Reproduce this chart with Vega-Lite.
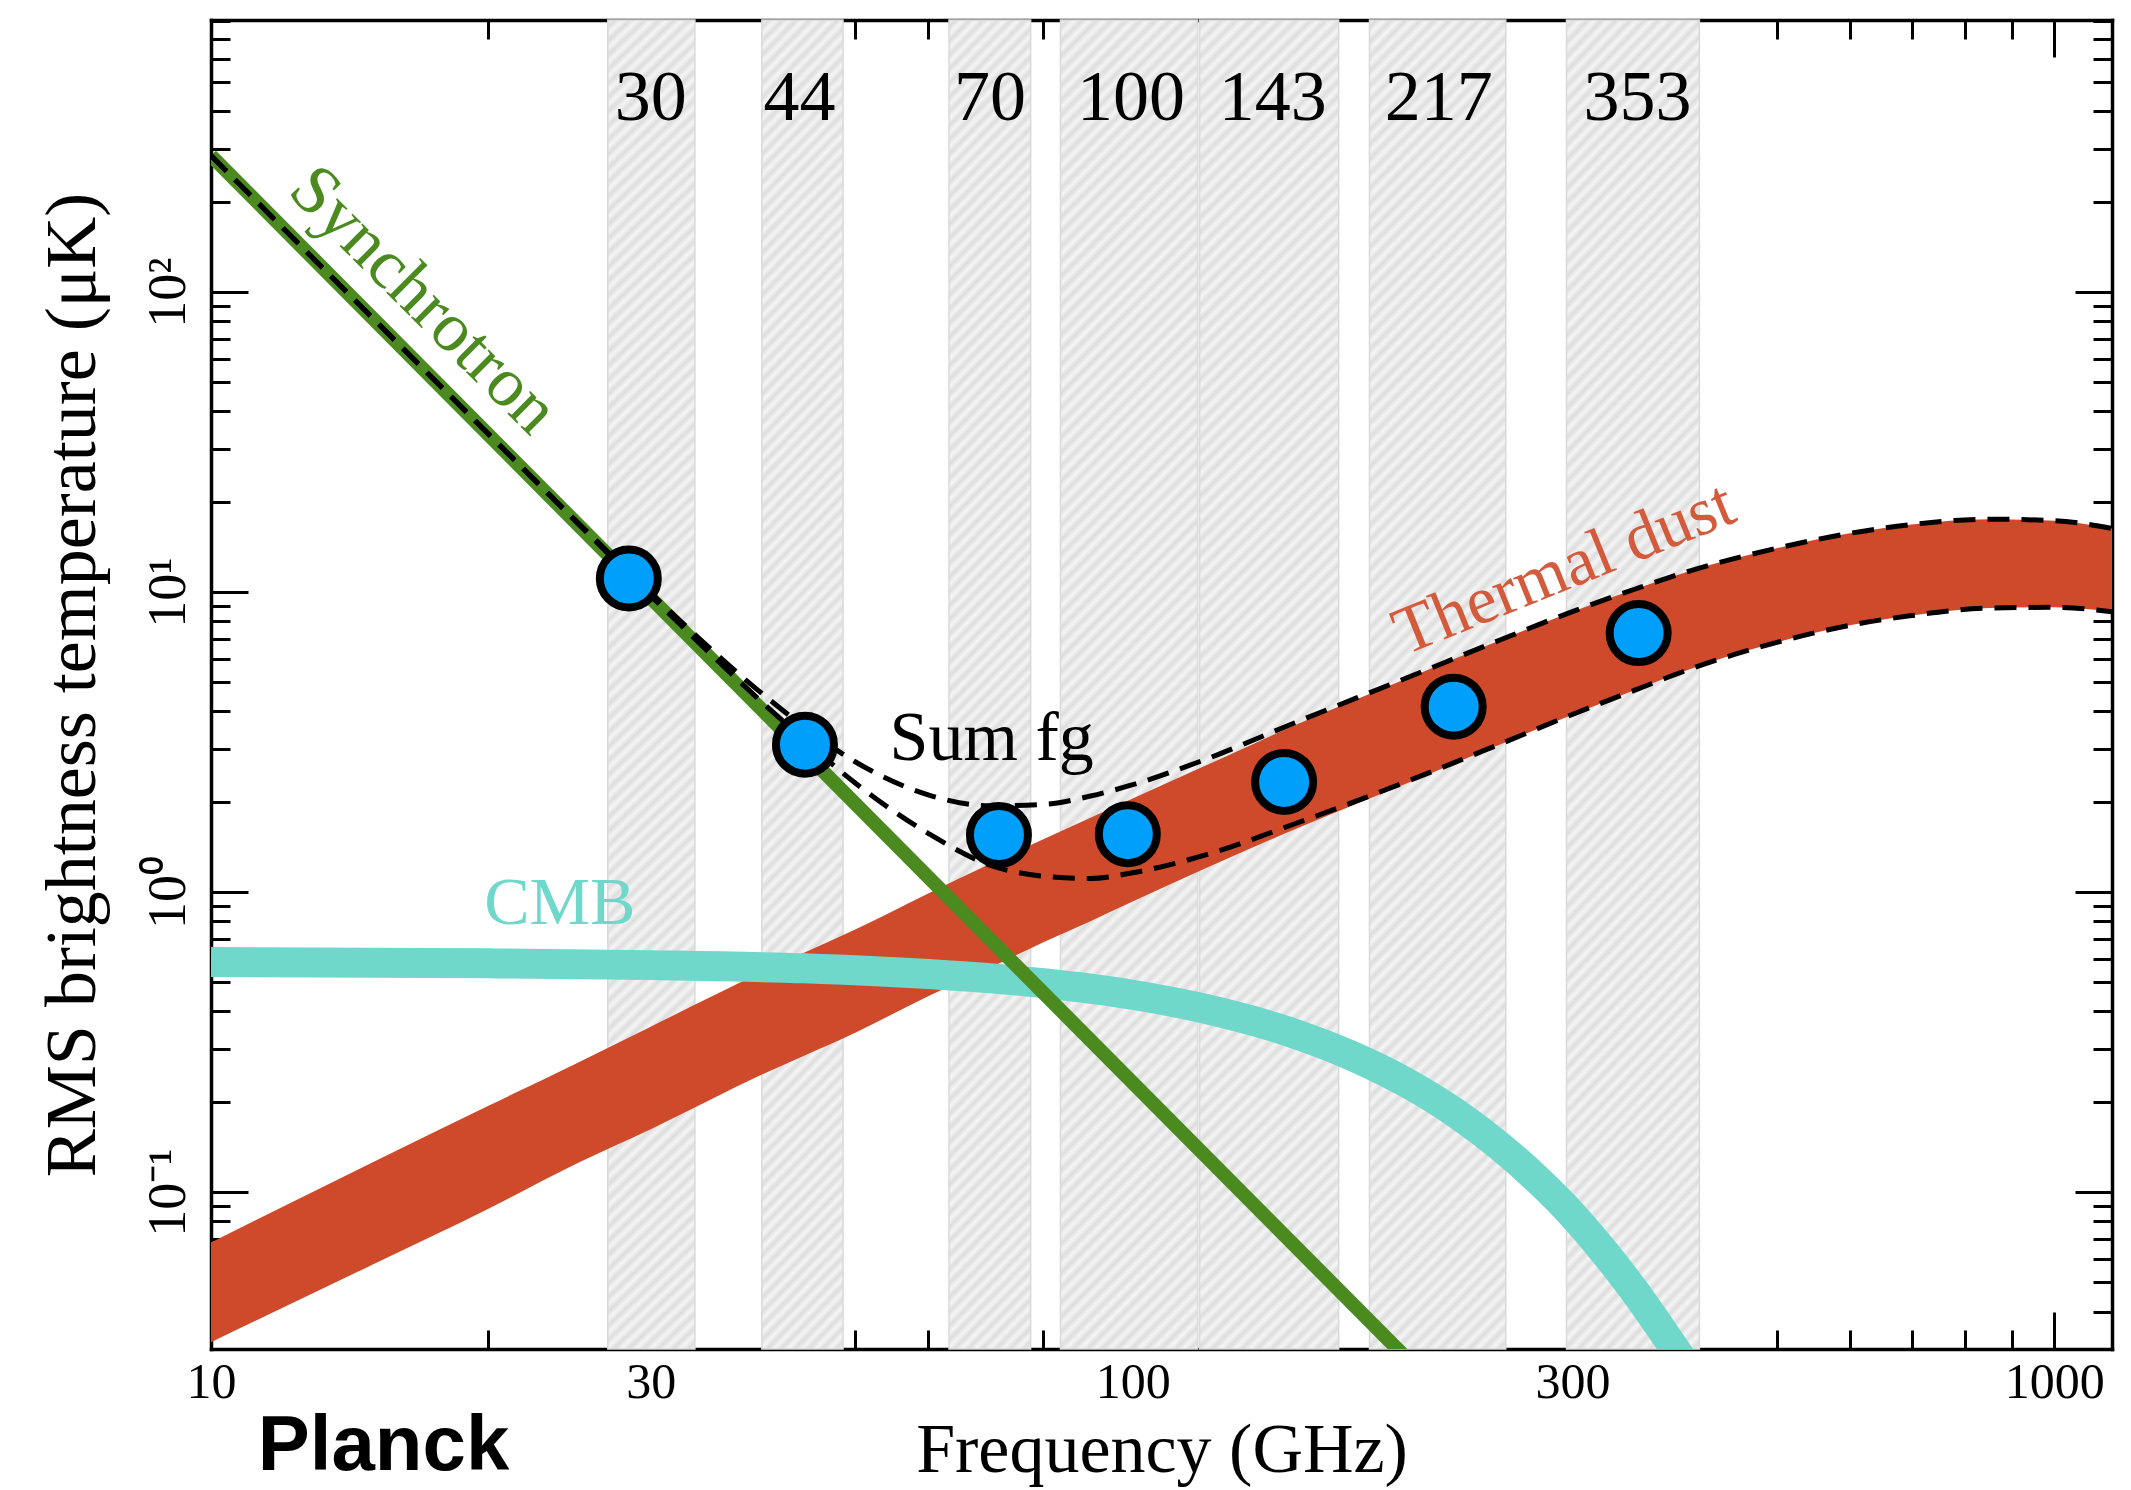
{
  "$schema": "https://vega.github.io/schema/vega-lite/v6.json",
  "width": 1901,
  "height": 1329,
  "autosize": {"type": "none"},
  "padding": {"left": 211, "top": 20, "right": 19, "bottom": 141},
  "background": "white",
  "config": {
    "view": {"stroke": null},
    "font": "Liberation Serif",
    "axis": {
      "grid": false,
      "zindex": 1,
      "labelColor": "black",
      "tickColor": "black",
      "domainColor": "black",
      "titleColor": "black",
      "labelFont": "Liberation Serif",
      "titleFont": "Liberation Serif",
      "titleFontWeight": "normal",
      "tickWidth": 3,
      "domainWidth": 3.5,
      "domainCap": "square",
      "labelOverlap": false,
      "labelFlush": false
    }
  },
  "datasets": {
    "bands": [
      {"band": "30", "group": "narrow", "lo": 26.95, "hi": 33.5, "center": 30.0},
      {"band": "44", "group": "narrow", "lo": 39.6, "hi": 48.5, "center": 43.5},
      {"band": "70", "group": "narrow", "lo": 63.2, "hi": 77.5, "center": 70.0},
      {"band": "100", "group": "wide", "lo": 83.5, "hi": 117.6, "center": 99.6},
      {"band": "143", "group": "wide", "lo": 118.2, "hi": 167.3, "center": 141.9},
      {"band": "217", "group": "wide", "lo": 180.7, "hi": 254, "center": 214.8},
      {"band": "353", "group": "wide", "lo": 295.6, "hi": 412, "center": 353}
    ],
    "fg": [
      {"freq": 10, "dust_lo": 0.0316, "dust_hi": 0.068, "sum_lo": 285.03, "sum_hi": 285.1},
      {"freq": 15, "dust_lo": 0.0575, "dust_hi": 0.126, "sum_lo": 81.46, "sum_hi": 81.5},
      {"freq": 20, "dust_lo": 0.088, "dust_hi": 0.194, "sum_lo": 33.59, "sum_hi": 33.7},
      {"freq": 25, "dust_lo": 0.125, "dust_hi": 0.27, "sum_lo": 16.93, "sum_hi": 17.07},
      {"freq": 30, "dust_lo": 0.162, "dust_hi": 0.356, "sum_lo": 9.72, "sum_hi": 9.92},
      {"freq": 40, "dust_lo": 0.25, "dust_hi": 0.55, "sum_lo": 4.18, "sum_hi": 4.48},
      {"freq": 44, "dust_lo": 0.285, "dust_hi": 0.628, "sum_lo": 3.22, "sum_hi": 3.56},
      {"freq": 50, "dust_lo": 0.34, "dust_hi": 0.75, "sum_lo": 2.31, "sum_hi": 2.72},
      {"freq": 60, "dust_lo": 0.45, "dust_hi": 0.99, "sum_lo": 1.57, "sum_hi": 2.11},
      {"freq": 70, "dust_lo": 0.56, "dust_hi": 1.24, "sum_lo": 1.23, "sum_hi": 1.94},
      {"freq": 80, "dust_lo": 0.68, "dust_hi": 1.5, "sum_lo": 1.13, "sum_hi": 1.96},
      {"freq": 90, "dust_lo": 0.8, "dust_hi": 1.77, "sum_lo": 1.11, "sum_hi": 2.09},
      {"freq": 100, "dust_lo": 0.93, "dust_hi": 2.05, "sum_lo": 1.16, "sum_hi": 2.28},
      {"freq": 120, "dust_lo": 1.2, "dust_hi": 2.64, "sum_lo": 1.33, "sum_hi": 2.77},
      {"freq": 150, "dust_lo": 1.62, "dust_hi": 3.6, "sum_lo": 1.69, "sum_hi": 3.67},
      {"freq": 200, "dust_lo": 2.33, "dust_hi": 5.2, "sum_lo": 2.36, "sum_hi": 5.23},
      {"freq": 250, "dust_lo": 3.1, "dust_hi": 6.9, "sum_lo": 3.11, "sum_hi": 6.91},
      {"freq": 300, "dust_lo": 3.9, "dust_hi": 8.6, "sum_lo": 3.91, "sum_hi": 8.61},
      {"freq": 353, "dust_lo": 4.75, "dust_hi": 10.3, "sum_lo": 4.75, "sum_hi": 10.3},
      {"freq": 400, "dust_lo": 5.5, "dust_hi": 11.7, "sum_lo": 5.5, "sum_hi": 11.7},
      {"freq": 500, "dust_lo": 6.8, "dust_hi": 14.0, "sum_lo": 6.8, "sum_hi": 14.0},
      {"freq": 600, "dust_lo": 7.75, "dust_hi": 15.7, "sum_lo": 7.75, "sum_hi": 15.7},
      {"freq": 700, "dust_lo": 8.35, "dust_hi": 16.8, "sum_lo": 8.35, "sum_hi": 16.8},
      {"freq": 850, "dust_lo": 8.85, "dust_hi": 17.5, "sum_lo": 8.85, "sum_hi": 17.5},
      {"freq": 1000, "dust_lo": 8.9, "dust_hi": 17.3, "sum_lo": 8.9, "sum_hi": 17.3},
      {"freq": 1155, "dust_lo": 8.6, "dust_hi": 16.3, "sum_lo": 8.6, "sum_hi": 16.3}
    ],
    "synch": [
      {"freq": 10, "temp": 285},
      {"freq": 200, "temp": 0.0272}
    ],
    "cmb": [
      {"freq": 10, "temp": 0.585},
      {"freq": 20, "temp": 0.579},
      {"freq": 30, "temp": 0.571},
      {"freq": 44, "temp": 0.557},
      {"freq": 60, "temp": 0.533},
      {"freq": 70, "temp": 0.516},
      {"freq": 80, "temp": 0.497},
      {"freq": 100, "temp": 0.455},
      {"freq": 120, "temp": 0.408},
      {"freq": 150, "temp": 0.337},
      {"freq": 175, "temp": 0.28},
      {"freq": 200, "temp": 0.228},
      {"freq": 225, "temp": 0.182},
      {"freq": 250, "temp": 0.1425},
      {"freq": 275, "temp": 0.11},
      {"freq": 300, "temp": 0.084},
      {"freq": 325, "temp": 0.063},
      {"freq": 350, "temp": 0.047},
      {"freq": 375, "temp": 0.0348},
      {"freq": 400, "temp": 0.026}
    ],
    "points": [
      {"freq": 28.4, "temp": 11.1},
      {"freq": 44.1, "temp": 3.1},
      {"freq": 71.6, "temp": 1.55},
      {"freq": 98.8, "temp": 1.56},
      {"freq": 146, "temp": 2.33},
      {"freq": 223, "temp": 4.15},
      {"freq": 354, "temp": 7.3}
    ],
    "labels": [
      {"label": "Synchrotron", "freq": 17.0, "temp": 94},
      {"label": "Thermal dust", "freq": 294, "temp": 11.9},
      {"label": "CMB", "freq": 23.9, "temp": 0.78},
      {"label": "Sum fg", "freq": 70.3, "temp": 2.75},
      {"label": "Planck", "freq": 11.24, "temp": 0.01184}
    ]
  },
  "resolve": {
    "scale": {"x": "shared", "y": "shared"},
    "axis": {"x": "independent", "y": "independent"}
  },
  "layer": [
    {
      "data": {"name": "bands"},
      "transform": [{"filter": "datum.group == 'narrow'"}],
      "mark": {"type": "rect", "stroke": "#d9d9d9", "strokeWidth": 1.5,
        "fill": {"gradient": "linear", "x1": 0, "y1": 0, "x2": 0.0661, "y2": 1.0583, "stops": [
          {"offset":0,"color":"#f5f5f5"},{"offset":0.005,"color":"#dddddd"},{"offset":0.01,"color":"#f5f5f5"},{"offset":0.015,"color":"#dddddd"},{"offset":0.02,"color":"#f5f5f5"},{"offset":0.025,"color":"#dddddd"},{"offset":0.03,"color":"#f5f5f5"},{"offset":0.035,"color":"#dddddd"},{"offset":0.04,"color":"#f5f5f5"},{"offset":0.045,"color":"#dddddd"},{"offset":0.05,"color":"#f5f5f5"},{"offset":0.055,"color":"#dddddd"},{"offset":0.06,"color":"#f5f5f5"},{"offset":0.065,"color":"#dddddd"},{"offset":0.07,"color":"#f5f5f5"},{"offset":0.075,"color":"#dddddd"},{"offset":0.08,"color":"#f5f5f5"},{"offset":0.085,"color":"#dddddd"},{"offset":0.09,"color":"#f5f5f5"},{"offset":0.095,"color":"#dddddd"},
          {"offset":0.1,"color":"#f5f5f5"},{"offset":0.105,"color":"#dddddd"},{"offset":0.11,"color":"#f5f5f5"},{"offset":0.115,"color":"#dddddd"},{"offset":0.12,"color":"#f5f5f5"},{"offset":0.125,"color":"#dddddd"},{"offset":0.13,"color":"#f5f5f5"},{"offset":0.135,"color":"#dddddd"},{"offset":0.14,"color":"#f5f5f5"},{"offset":0.145,"color":"#dddddd"},{"offset":0.15,"color":"#f5f5f5"},{"offset":0.155,"color":"#dddddd"},{"offset":0.16,"color":"#f5f5f5"},{"offset":0.165,"color":"#dddddd"},{"offset":0.17,"color":"#f5f5f5"},{"offset":0.175,"color":"#dddddd"},{"offset":0.18,"color":"#f5f5f5"},{"offset":0.185,"color":"#dddddd"},{"offset":0.19,"color":"#f5f5f5"},{"offset":0.195,"color":"#dddddd"},
          {"offset":0.2,"color":"#f5f5f5"},{"offset":0.205,"color":"#dddddd"},{"offset":0.21,"color":"#f5f5f5"},{"offset":0.215,"color":"#dddddd"},{"offset":0.22,"color":"#f5f5f5"},{"offset":0.225,"color":"#dddddd"},{"offset":0.23,"color":"#f5f5f5"},{"offset":0.235,"color":"#dddddd"},{"offset":0.24,"color":"#f5f5f5"},{"offset":0.245,"color":"#dddddd"},{"offset":0.25,"color":"#f5f5f5"},{"offset":0.255,"color":"#dddddd"},{"offset":0.26,"color":"#f5f5f5"},{"offset":0.265,"color":"#dddddd"},{"offset":0.27,"color":"#f5f5f5"},{"offset":0.275,"color":"#dddddd"},{"offset":0.28,"color":"#f5f5f5"},{"offset":0.285,"color":"#dddddd"},{"offset":0.29,"color":"#f5f5f5"},{"offset":0.295,"color":"#dddddd"},
          {"offset":0.3,"color":"#f5f5f5"},{"offset":0.305,"color":"#dddddd"},{"offset":0.31,"color":"#f5f5f5"},{"offset":0.315,"color":"#dddddd"},{"offset":0.32,"color":"#f5f5f5"},{"offset":0.325,"color":"#dddddd"},{"offset":0.33,"color":"#f5f5f5"},{"offset":0.335,"color":"#dddddd"},{"offset":0.34,"color":"#f5f5f5"},{"offset":0.345,"color":"#dddddd"},{"offset":0.35,"color":"#f5f5f5"},{"offset":0.355,"color":"#dddddd"},{"offset":0.36,"color":"#f5f5f5"},{"offset":0.365,"color":"#dddddd"},{"offset":0.37,"color":"#f5f5f5"},{"offset":0.375,"color":"#dddddd"},{"offset":0.38,"color":"#f5f5f5"},{"offset":0.385,"color":"#dddddd"},{"offset":0.39,"color":"#f5f5f5"},{"offset":0.395,"color":"#dddddd"},
          {"offset":0.4,"color":"#f5f5f5"},{"offset":0.405,"color":"#dddddd"},{"offset":0.41,"color":"#f5f5f5"},{"offset":0.415,"color":"#dddddd"},{"offset":0.42,"color":"#f5f5f5"},{"offset":0.425,"color":"#dddddd"},{"offset":0.43,"color":"#f5f5f5"},{"offset":0.435,"color":"#dddddd"},{"offset":0.44,"color":"#f5f5f5"},{"offset":0.445,"color":"#dddddd"},{"offset":0.45,"color":"#f5f5f5"},{"offset":0.455,"color":"#dddddd"},{"offset":0.46,"color":"#f5f5f5"},{"offset":0.465,"color":"#dddddd"},{"offset":0.47,"color":"#f5f5f5"},{"offset":0.475,"color":"#dddddd"},{"offset":0.48,"color":"#f5f5f5"},{"offset":0.485,"color":"#dddddd"},{"offset":0.49,"color":"#f5f5f5"},{"offset":0.495,"color":"#dddddd"},
          {"offset":0.5,"color":"#f5f5f5"},{"offset":0.505,"color":"#dddddd"},{"offset":0.51,"color":"#f5f5f5"},{"offset":0.515,"color":"#dddddd"},{"offset":0.52,"color":"#f5f5f5"},{"offset":0.525,"color":"#dddddd"},{"offset":0.53,"color":"#f5f5f5"},{"offset":0.535,"color":"#dddddd"},{"offset":0.54,"color":"#f5f5f5"},{"offset":0.545,"color":"#dddddd"},{"offset":0.55,"color":"#f5f5f5"},{"offset":0.555,"color":"#dddddd"},{"offset":0.56,"color":"#f5f5f5"},{"offset":0.565,"color":"#dddddd"},{"offset":0.57,"color":"#f5f5f5"},{"offset":0.575,"color":"#dddddd"},{"offset":0.58,"color":"#f5f5f5"},{"offset":0.585,"color":"#dddddd"},{"offset":0.59,"color":"#f5f5f5"},{"offset":0.595,"color":"#dddddd"},
          {"offset":0.6,"color":"#f5f5f5"},{"offset":0.605,"color":"#dddddd"},{"offset":0.61,"color":"#f5f5f5"},{"offset":0.615,"color":"#dddddd"},{"offset":0.62,"color":"#f5f5f5"},{"offset":0.625,"color":"#dddddd"},{"offset":0.63,"color":"#f5f5f5"},{"offset":0.635,"color":"#dddddd"},{"offset":0.64,"color":"#f5f5f5"},{"offset":0.645,"color":"#dddddd"},{"offset":0.65,"color":"#f5f5f5"},{"offset":0.655,"color":"#dddddd"},{"offset":0.66,"color":"#f5f5f5"},{"offset":0.665,"color":"#dddddd"},{"offset":0.67,"color":"#f5f5f5"},{"offset":0.675,"color":"#dddddd"},{"offset":0.68,"color":"#f5f5f5"},{"offset":0.685,"color":"#dddddd"},{"offset":0.69,"color":"#f5f5f5"},{"offset":0.695,"color":"#dddddd"},
          {"offset":0.7,"color":"#f5f5f5"},{"offset":0.705,"color":"#dddddd"},{"offset":0.71,"color":"#f5f5f5"},{"offset":0.715,"color":"#dddddd"},{"offset":0.72,"color":"#f5f5f5"},{"offset":0.725,"color":"#dddddd"},{"offset":0.73,"color":"#f5f5f5"},{"offset":0.735,"color":"#dddddd"},{"offset":0.74,"color":"#f5f5f5"},{"offset":0.745,"color":"#dddddd"},{"offset":0.75,"color":"#f5f5f5"},{"offset":0.755,"color":"#dddddd"},{"offset":0.76,"color":"#f5f5f5"},{"offset":0.765,"color":"#dddddd"},{"offset":0.77,"color":"#f5f5f5"},{"offset":0.775,"color":"#dddddd"},{"offset":0.78,"color":"#f5f5f5"},{"offset":0.785,"color":"#dddddd"},{"offset":0.79,"color":"#f5f5f5"},{"offset":0.795,"color":"#dddddd"},
          {"offset":0.8,"color":"#f5f5f5"},{"offset":0.805,"color":"#dddddd"},{"offset":0.81,"color":"#f5f5f5"},{"offset":0.815,"color":"#dddddd"},{"offset":0.82,"color":"#f5f5f5"},{"offset":0.825,"color":"#dddddd"},{"offset":0.83,"color":"#f5f5f5"},{"offset":0.835,"color":"#dddddd"},{"offset":0.84,"color":"#f5f5f5"},{"offset":0.845,"color":"#dddddd"},{"offset":0.85,"color":"#f5f5f5"},{"offset":0.855,"color":"#dddddd"},{"offset":0.86,"color":"#f5f5f5"},{"offset":0.865,"color":"#dddddd"},{"offset":0.87,"color":"#f5f5f5"},{"offset":0.875,"color":"#dddddd"},{"offset":0.88,"color":"#f5f5f5"},{"offset":0.885,"color":"#dddddd"},{"offset":0.89,"color":"#f5f5f5"},{"offset":0.895,"color":"#dddddd"},
          {"offset":0.9,"color":"#f5f5f5"},{"offset":0.905,"color":"#dddddd"},{"offset":0.91,"color":"#f5f5f5"},{"offset":0.915,"color":"#dddddd"},{"offset":0.92,"color":"#f5f5f5"},{"offset":0.925,"color":"#dddddd"},{"offset":0.93,"color":"#f5f5f5"},{"offset":0.935,"color":"#dddddd"},{"offset":0.94,"color":"#f5f5f5"},{"offset":0.945,"color":"#dddddd"},{"offset":0.95,"color":"#f5f5f5"},{"offset":0.955,"color":"#dddddd"},{"offset":0.96,"color":"#f5f5f5"},{"offset":0.965,"color":"#dddddd"},{"offset":0.97,"color":"#f5f5f5"},{"offset":0.975,"color":"#dddddd"},{"offset":0.98,"color":"#f5f5f5"},{"offset":0.985,"color":"#dddddd"},{"offset":0.99,"color":"#f5f5f5"},{"offset":0.995,"color":"#dddddd"},
          {"offset":1,"color":"#f5f5f5"}
        ]}
      },
      "encoding": {
        "x": {
          "field": "lo", "type": "quantitative",
          "scale": {"type": "log", "domain": [10, 1155], "nice": false},
          "axis": {
            "orient": "bottom", "values": [10, 30, 100, 300, 1000],
            "tickSize": -37, "labelPadding": 45, "labelFontSize": 50,
            "labelExpr": "format(datum.value, 'd')",
            "title": "Frequency (GHz)", "titleFontSize": 70, "titlePadding": 9
          }
        },
        "x2": {"field": "hi"}
      }
    },
    {
      "data": {"name": "bands"},
      "transform": [{"filter": "datum.group == 'wide'"}],
      "mark": {"type": "rect", "stroke": "#d9d9d9", "strokeWidth": 1.5,
        "fill": {"gradient": "linear", "x1": 0, "y1": 0, "x2": 0.1125, "y2": 1.0915, "stops": [
          {"offset":0,"color":"#f5f5f5"},{"offset":0.005,"color":"#dddddd"},{"offset":0.01,"color":"#f5f5f5"},{"offset":0.015,"color":"#dddddd"},{"offset":0.02,"color":"#f5f5f5"},{"offset":0.025,"color":"#dddddd"},{"offset":0.03,"color":"#f5f5f5"},{"offset":0.035,"color":"#dddddd"},{"offset":0.04,"color":"#f5f5f5"},{"offset":0.045,"color":"#dddddd"},{"offset":0.05,"color":"#f5f5f5"},{"offset":0.055,"color":"#dddddd"},{"offset":0.06,"color":"#f5f5f5"},{"offset":0.065,"color":"#dddddd"},{"offset":0.07,"color":"#f5f5f5"},{"offset":0.075,"color":"#dddddd"},{"offset":0.08,"color":"#f5f5f5"},{"offset":0.085,"color":"#dddddd"},{"offset":0.09,"color":"#f5f5f5"},{"offset":0.095,"color":"#dddddd"},
          {"offset":0.1,"color":"#f5f5f5"},{"offset":0.105,"color":"#dddddd"},{"offset":0.11,"color":"#f5f5f5"},{"offset":0.115,"color":"#dddddd"},{"offset":0.12,"color":"#f5f5f5"},{"offset":0.125,"color":"#dddddd"},{"offset":0.13,"color":"#f5f5f5"},{"offset":0.135,"color":"#dddddd"},{"offset":0.14,"color":"#f5f5f5"},{"offset":0.145,"color":"#dddddd"},{"offset":0.15,"color":"#f5f5f5"},{"offset":0.155,"color":"#dddddd"},{"offset":0.16,"color":"#f5f5f5"},{"offset":0.165,"color":"#dddddd"},{"offset":0.17,"color":"#f5f5f5"},{"offset":0.175,"color":"#dddddd"},{"offset":0.18,"color":"#f5f5f5"},{"offset":0.185,"color":"#dddddd"},{"offset":0.19,"color":"#f5f5f5"},{"offset":0.195,"color":"#dddddd"},
          {"offset":0.2,"color":"#f5f5f5"},{"offset":0.205,"color":"#dddddd"},{"offset":0.21,"color":"#f5f5f5"},{"offset":0.215,"color":"#dddddd"},{"offset":0.22,"color":"#f5f5f5"},{"offset":0.225,"color":"#dddddd"},{"offset":0.23,"color":"#f5f5f5"},{"offset":0.235,"color":"#dddddd"},{"offset":0.24,"color":"#f5f5f5"},{"offset":0.245,"color":"#dddddd"},{"offset":0.25,"color":"#f5f5f5"},{"offset":0.255,"color":"#dddddd"},{"offset":0.26,"color":"#f5f5f5"},{"offset":0.265,"color":"#dddddd"},{"offset":0.27,"color":"#f5f5f5"},{"offset":0.275,"color":"#dddddd"},{"offset":0.28,"color":"#f5f5f5"},{"offset":0.285,"color":"#dddddd"},{"offset":0.29,"color":"#f5f5f5"},{"offset":0.295,"color":"#dddddd"},
          {"offset":0.3,"color":"#f5f5f5"},{"offset":0.305,"color":"#dddddd"},{"offset":0.31,"color":"#f5f5f5"},{"offset":0.315,"color":"#dddddd"},{"offset":0.32,"color":"#f5f5f5"},{"offset":0.325,"color":"#dddddd"},{"offset":0.33,"color":"#f5f5f5"},{"offset":0.335,"color":"#dddddd"},{"offset":0.34,"color":"#f5f5f5"},{"offset":0.345,"color":"#dddddd"},{"offset":0.35,"color":"#f5f5f5"},{"offset":0.355,"color":"#dddddd"},{"offset":0.36,"color":"#f5f5f5"},{"offset":0.365,"color":"#dddddd"},{"offset":0.37,"color":"#f5f5f5"},{"offset":0.375,"color":"#dddddd"},{"offset":0.38,"color":"#f5f5f5"},{"offset":0.385,"color":"#dddddd"},{"offset":0.39,"color":"#f5f5f5"},{"offset":0.395,"color":"#dddddd"},
          {"offset":0.4,"color":"#f5f5f5"},{"offset":0.405,"color":"#dddddd"},{"offset":0.41,"color":"#f5f5f5"},{"offset":0.415,"color":"#dddddd"},{"offset":0.42,"color":"#f5f5f5"},{"offset":0.425,"color":"#dddddd"},{"offset":0.43,"color":"#f5f5f5"},{"offset":0.435,"color":"#dddddd"},{"offset":0.44,"color":"#f5f5f5"},{"offset":0.445,"color":"#dddddd"},{"offset":0.45,"color":"#f5f5f5"},{"offset":0.455,"color":"#dddddd"},{"offset":0.46,"color":"#f5f5f5"},{"offset":0.465,"color":"#dddddd"},{"offset":0.47,"color":"#f5f5f5"},{"offset":0.475,"color":"#dddddd"},{"offset":0.48,"color":"#f5f5f5"},{"offset":0.485,"color":"#dddddd"},{"offset":0.49,"color":"#f5f5f5"},{"offset":0.495,"color":"#dddddd"},
          {"offset":0.5,"color":"#f5f5f5"},{"offset":0.505,"color":"#dddddd"},{"offset":0.51,"color":"#f5f5f5"},{"offset":0.515,"color":"#dddddd"},{"offset":0.52,"color":"#f5f5f5"},{"offset":0.525,"color":"#dddddd"},{"offset":0.53,"color":"#f5f5f5"},{"offset":0.535,"color":"#dddddd"},{"offset":0.54,"color":"#f5f5f5"},{"offset":0.545,"color":"#dddddd"},{"offset":0.55,"color":"#f5f5f5"},{"offset":0.555,"color":"#dddddd"},{"offset":0.56,"color":"#f5f5f5"},{"offset":0.565,"color":"#dddddd"},{"offset":0.57,"color":"#f5f5f5"},{"offset":0.575,"color":"#dddddd"},{"offset":0.58,"color":"#f5f5f5"},{"offset":0.585,"color":"#dddddd"},{"offset":0.59,"color":"#f5f5f5"},{"offset":0.595,"color":"#dddddd"},
          {"offset":0.6,"color":"#f5f5f5"},{"offset":0.605,"color":"#dddddd"},{"offset":0.61,"color":"#f5f5f5"},{"offset":0.615,"color":"#dddddd"},{"offset":0.62,"color":"#f5f5f5"},{"offset":0.625,"color":"#dddddd"},{"offset":0.63,"color":"#f5f5f5"},{"offset":0.635,"color":"#dddddd"},{"offset":0.64,"color":"#f5f5f5"},{"offset":0.645,"color":"#dddddd"},{"offset":0.65,"color":"#f5f5f5"},{"offset":0.655,"color":"#dddddd"},{"offset":0.66,"color":"#f5f5f5"},{"offset":0.665,"color":"#dddddd"},{"offset":0.67,"color":"#f5f5f5"},{"offset":0.675,"color":"#dddddd"},{"offset":0.68,"color":"#f5f5f5"},{"offset":0.685,"color":"#dddddd"},{"offset":0.69,"color":"#f5f5f5"},{"offset":0.695,"color":"#dddddd"},
          {"offset":0.7,"color":"#f5f5f5"},{"offset":0.705,"color":"#dddddd"},{"offset":0.71,"color":"#f5f5f5"},{"offset":0.715,"color":"#dddddd"},{"offset":0.72,"color":"#f5f5f5"},{"offset":0.725,"color":"#dddddd"},{"offset":0.73,"color":"#f5f5f5"},{"offset":0.735,"color":"#dddddd"},{"offset":0.74,"color":"#f5f5f5"},{"offset":0.745,"color":"#dddddd"},{"offset":0.75,"color":"#f5f5f5"},{"offset":0.755,"color":"#dddddd"},{"offset":0.76,"color":"#f5f5f5"},{"offset":0.765,"color":"#dddddd"},{"offset":0.77,"color":"#f5f5f5"},{"offset":0.775,"color":"#dddddd"},{"offset":0.78,"color":"#f5f5f5"},{"offset":0.785,"color":"#dddddd"},{"offset":0.79,"color":"#f5f5f5"},{"offset":0.795,"color":"#dddddd"},
          {"offset":0.8,"color":"#f5f5f5"},{"offset":0.805,"color":"#dddddd"},{"offset":0.81,"color":"#f5f5f5"},{"offset":0.815,"color":"#dddddd"},{"offset":0.82,"color":"#f5f5f5"},{"offset":0.825,"color":"#dddddd"},{"offset":0.83,"color":"#f5f5f5"},{"offset":0.835,"color":"#dddddd"},{"offset":0.84,"color":"#f5f5f5"},{"offset":0.845,"color":"#dddddd"},{"offset":0.85,"color":"#f5f5f5"},{"offset":0.855,"color":"#dddddd"},{"offset":0.86,"color":"#f5f5f5"},{"offset":0.865,"color":"#dddddd"},{"offset":0.87,"color":"#f5f5f5"},{"offset":0.875,"color":"#dddddd"},{"offset":0.88,"color":"#f5f5f5"},{"offset":0.885,"color":"#dddddd"},{"offset":0.89,"color":"#f5f5f5"},{"offset":0.895,"color":"#dddddd"},
          {"offset":0.9,"color":"#f5f5f5"},{"offset":0.905,"color":"#dddddd"},{"offset":0.91,"color":"#f5f5f5"},{"offset":0.915,"color":"#dddddd"},{"offset":0.92,"color":"#f5f5f5"},{"offset":0.925,"color":"#dddddd"},{"offset":0.93,"color":"#f5f5f5"},{"offset":0.935,"color":"#dddddd"},{"offset":0.94,"color":"#f5f5f5"},{"offset":0.945,"color":"#dddddd"},{"offset":0.95,"color":"#f5f5f5"},{"offset":0.955,"color":"#dddddd"},{"offset":0.96,"color":"#f5f5f5"},{"offset":0.965,"color":"#dddddd"},{"offset":0.97,"color":"#f5f5f5"},{"offset":0.975,"color":"#dddddd"},{"offset":0.98,"color":"#f5f5f5"},{"offset":0.985,"color":"#dddddd"},{"offset":0.99,"color":"#f5f5f5"},{"offset":0.995,"color":"#dddddd"},
          {"offset":1,"color":"#f5f5f5"}
        ]}
      },
      "encoding": {
        "x": {"field": "lo", "type": "quantitative", "axis": null},
        "x2": {"field": "hi"}
      }
    },
    {
      "data": {"name": "bands"},
      "mark": {"type": "text", "font": "Liberation Serif", "fontSize": 72, "color": "black", "align": "center", "baseline": "alphabetic"},
      "encoding": {
        "x": {
          "field": "center", "type": "quantitative",
          "axis": {
            "orient": "bottom",
            "values": [20, 40, 50, 60, 70, 80, 90, 200, 400, 500, 600, 700, 800, 900],
            "tickSize": -19, "labels": false, "domain": false, "title": null
          }
        },
        "y": {
          "datum": 374, "type": "quantitative",
          "scale": {"type": "log", "domain": [0.03, 807], "nice": false},
          "axis": {
            "orient": "left",
            "values": [0.04, 0.05, 0.06, 0.07, 0.08, 0.09, 0.2, 0.3, 0.4, 0.5, 0.6, 0.7, 0.8, 0.9, 2, 3, 4, 5, 6, 7, 8, 9, 20, 30, 40, 50, 60, 70, 80, 90, 200, 300, 400, 500, 600, 700, 800],
            "tickSize": -19, "labels": false, "domain": false, "title": null
          }
        },
        "text": {"field": "band"}
      }
    },
    {
      "data": {"name": "fg"},
      "mark": {"type": "area", "color": "#cf4a2a", "interpolate": "monotone", "clip": true},
      "encoding": {
        "x": {
          "field": "freq", "type": "quantitative",
          "axis": {
            "orient": "top", "values": [10, 30, 100, 300, 1000],
            "tickSize": -37, "labels": false, "title": null
          }
        },
        "y": {
          "field": "dust_lo", "type": "quantitative",
          "axis": {
            "orient": "right", "values": [0.1, 1, 10, 100],
            "tickSize": -37, "labels": false, "title": null
          }
        },
        "y2": {"field": "dust_hi"}
      }
    },
    {
      "data": {"name": "cmb"},
      "mark": {"type": "line", "color": "#6fd8cb", "strokeWidth": 30, "interpolate": "monotone", "clip": true, "strokeCap": "butt"},
      "encoding": {
        "x": {
          "field": "freq", "type": "quantitative",
          "axis": {
            "orient": "top",
            "values": [20, 40, 50, 60, 70, 80, 90, 200, 400, 500, 600, 700, 800, 900],
            "tickSize": -19, "labels": false, "domain": false, "title": null
          }
        },
        "y": {
          "field": "temp", "type": "quantitative",
          "axis": {
            "orient": "right",
            "values": [0.04, 0.05, 0.06, 0.07, 0.08, 0.09, 0.2, 0.3, 0.4, 0.5, 0.6, 0.7, 0.8, 0.9, 2, 3, 4, 5, 6, 7, 8, 9, 20, 30, 40, 50, 60, 70, 80, 90, 200, 300, 400, 500, 600, 700, 800],
            "tickSize": -19, "labels": false, "domain": false, "title": null
          }
        }
      }
    },
    {
      "data": {"name": "synch"},
      "mark": {"type": "line", "color": "#4a8a1f", "strokeWidth": 14, "clip": true},
      "encoding": {
        "x": {"field": "freq", "type": "quantitative", "axis": null},
        "y": {
          "field": "temp", "type": "quantitative",
          "axis": {
            "orient": "left", "values": [0.1, 1, 10, 100],
            "tickSize": -37, "labelPadding": 53, "labelFontSize": 54,
            "labelAngle": -90, "labelAlign": "center", "labelBaseline": "bottom",
            "labelExpr": "datum.value < 0.5 ? '10⁻¹' : datum.value < 5 ? '10⁰' : datum.value < 50 ? '10¹' : '10²'",
            "title": "RMS brightness temperature (μK)", "titleFontSize": 72, "titlePadding": 32
          }
        }
      }
    },
    {
      "data": {"name": "fg"},
      "mark": {"type": "line", "color": "black", "strokeWidth": 5, "strokeDash": [22, 12], "interpolate": "monotone", "clip": true},
      "encoding": {
        "x": {"field": "freq", "type": "quantitative", "axis": null},
        "y": {"field": "sum_hi", "type": "quantitative", "axis": null}
      }
    },
    {
      "data": {"name": "fg"},
      "mark": {"type": "line", "color": "black", "strokeWidth": 5, "strokeDash": [22, 12], "interpolate": "monotone", "clip": true},
      "encoding": {
        "x": {"field": "freq", "type": "quantitative", "axis": null},
        "y": {"field": "sum_lo", "type": "quantitative", "axis": null}
      }
    },
    {
      "data": {"name": "points"},
      "mark": {"type": "point", "shape": "circle", "filled": true, "fill": "#009ffc", "stroke": "black", "strokeWidth": 8, "size": 3364, "opacity": 1},
      "encoding": {
        "x": {"field": "freq", "type": "quantitative", "axis": null},
        "y": {"field": "temp", "type": "quantitative", "axis": null}
      }
    },
    {
      "data": {"name": "labels"},
      "transform": [{"filter": "datum.label == 'Synchrotron'"}],
      "mark": {"type": "text", "font": "Liberation Serif", "fontSize": 70, "color": "#4a8a1f", "angle": 45, "align": "center", "baseline": "middle"},
      "encoding": {
        "x": {"field": "freq", "type": "quantitative", "axis": null},
        "y": {"field": "temp", "type": "quantitative", "axis": null},
        "text": {"field": "label"}
      }
    },
    {
      "data": {"name": "labels"},
      "transform": [{"filter": "datum.label == 'Thermal dust'"}],
      "mark": {"type": "text", "font": "Liberation Serif", "fontSize": 68, "color": "#d45a3c", "angle": -22, "align": "center", "baseline": "middle"},
      "encoding": {
        "x": {"field": "freq", "type": "quantitative", "axis": null},
        "y": {"field": "temp", "type": "quantitative", "axis": null},
        "text": {"field": "label"}
      }
    },
    {
      "data": {"name": "labels"},
      "transform": [{"filter": "datum.label == 'CMB'"}],
      "mark": {"type": "text", "font": "Liberation Serif", "fontSize": 68, "color": "#6fd8cb", "align": "center", "baseline": "alphabetic"},
      "encoding": {
        "x": {"field": "freq", "type": "quantitative", "axis": null},
        "y": {"field": "temp", "type": "quantitative", "axis": null},
        "text": {"field": "label"}
      }
    },
    {
      "data": {"name": "labels"},
      "transform": [{"filter": "datum.label == 'Sum fg'"}],
      "mark": {"type": "text", "font": "Liberation Serif", "fontSize": 70, "color": "black", "align": "center", "baseline": "alphabetic"},
      "encoding": {
        "x": {"field": "freq", "type": "quantitative", "axis": null},
        "y": {"field": "temp", "type": "quantitative", "axis": null},
        "text": {"field": "label"}
      }
    },
    {
      "data": {"name": "labels"},
      "transform": [{"filter": "datum.label == 'Planck'"}],
      "mark": {"type": "text", "font": "Liberation Sans", "fontWeight": "bold", "fontSize": 78, "color": "black", "align": "left", "baseline": "alphabetic"},
      "encoding": {
        "x": {"field": "freq", "type": "quantitative", "axis": null},
        "y": {"field": "temp", "type": "quantitative", "axis": null},
        "text": {"field": "label"}
      }
    }
  ]
}
